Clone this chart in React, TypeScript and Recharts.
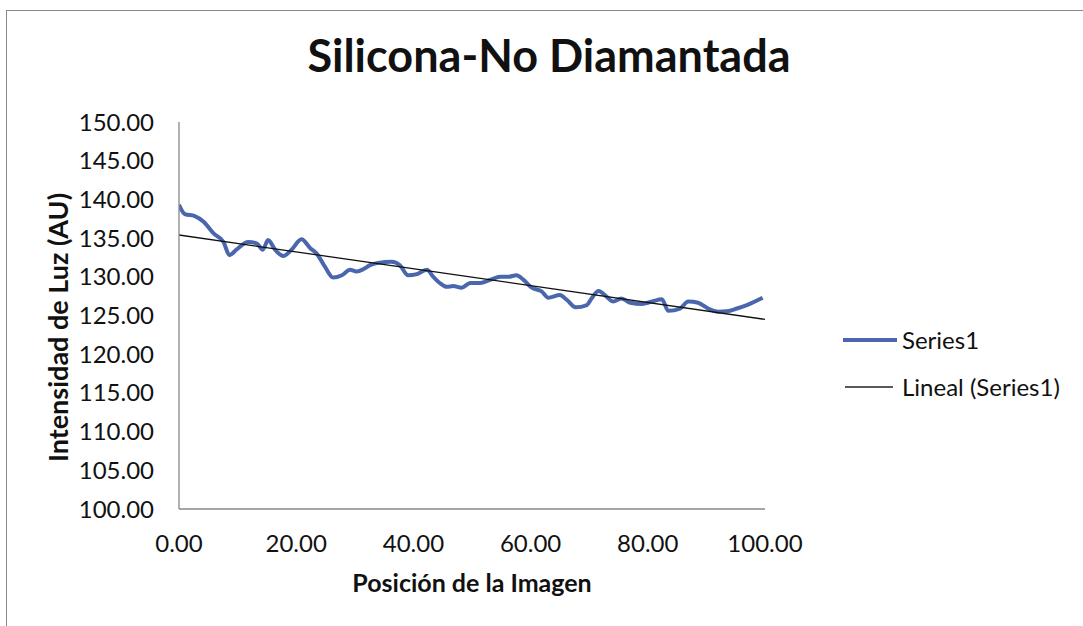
import React from "react";
import { LineChart, Line, XAxis, YAxis } from "recharts";

const positions = [
  0, 1, 2.7, 4.2, 5.9, 7.6, 8.6, 9.8, 11.8, 13.3, 14.3, 15.2, 16.4, 17.8, 19.2,
  20.9, 22.4, 23.5, 24.9, 26.3, 27.8, 29.2, 30.3, 31.5, 32.6, 34.0, 36.3, 37.7,
  39.1, 40.6, 42.3, 43.4, 44.5, 45.7, 46.8, 48.2, 49.7, 51.4, 53.1, 54.8, 56.2,
  57.6, 58.8, 60.2, 61.9, 63.0, 65.0, 66.2, 67.7, 69.6, 70.4, 71.6, 73.0, 74.1,
  75.5, 77.0, 79.0, 80.7, 82.4, 83.5, 85.5, 86.9, 88.6, 90.3, 92.0, 93.5, 95.2,
  96.9, 99.6,
];

const intensities = [
  139.3, 138.1, 137.85, 137.1, 135.6, 134.5, 132.8, 133.5, 134.5, 134.3, 133.5,
  134.75, 133.5, 132.7, 133.5, 134.85, 133.7, 133.0, 131.3, 129.9, 130.2, 130.9,
  130.7, 131.0, 131.5, 131.8, 131.95, 131.5, 130.2, 130.35, 130.9, 130.0, 129.2,
  128.7, 128.8, 128.6, 129.2, 129.2, 129.6, 130.0, 130.0, 130.2, 129.6, 128.6,
  128.1, 127.3, 127.65, 127.0, 126.05, 126.35, 127.2, 128.15, 127.4, 126.8,
  127.2, 126.65, 126.5, 126.8, 127.1, 125.6, 125.9, 126.8, 126.65, 125.9, 125.5,
  125.55, 125.9, 126.35, 127.3,
];

// linear trend (Excel "Lineal") endpoints
const trendX = [0, 100];
const trendY = [135.4, 124.5];

const xTicks = [0, 20, 40, 60, 80, 100];
const yTicks = [100, 105, 110, 115, 120, 125, 130, 135, 140, 145, 150];

const series = positions.map((x, i) => ({ x, y: intensities[i] }));
const trend = trendX.map((x, i) => ({ x, y: trendY[i] }));

const FONT = "Lato, 'Open Sans', sans-serif";
const BLUE = "#4A67AD";

function YTitle(props: any) {
  const vb = props.viewBox || { x: 0, y: 0, width: 0, height: 0 };
  const cx = vb.x + 57;
  const cy = vb.y + vb.height / 2 + 12;
  return (
    <text
      x={cx}
      y={cy}
      transform={`rotate(-90, ${cx}, ${cy})`}
      textAnchor="middle"
      dominantBaseline="central"
      fontFamily={FONT}
      fontWeight={700}
      fontSize={27}
      fill="#111"
    >
      Intensidad de Luz (AU)
    </text>
  );
}

function LegendBox() {
  return (
    <div
      style={{
        position: "absolute",
        left: 842,
        top: 316,
        fontFamily: FONT,
        fontSize: 24,
        color: "#111",
      }}
    >
      <div style={{ display: "flex", alignItems: "center", height: 47 }}>
        <svg width={56} height={10}>
          <line x1={1} y1={5} x2={55} y2={5} stroke={BLUE} strokeWidth={4} />
        </svg>
        <span style={{ marginLeft: 4 }}>Series1</span>
      </div>
      <div style={{ display: "flex", alignItems: "center", height: 47 }}>
        <svg width={56} height={10}>
          <line x1={3} y1={5} x2={51} y2={5} stroke="#222" strokeWidth={1.3} />
        </svg>
        <span style={{ marginLeft: 4 }}>Lineal (Series1)</span>
      </div>
    </div>
  );
}

export default function App() {
  return (
    <div
      style={{
        position: "fixed",
        left: 0,
        top: 0,
        width: 1083,
        height: 626,
        overflow: "hidden",
        background: "#fff",
      }}
    >
      <div
        style={{
          position: "absolute",
          left: 6,
          top: 10,
          width: 1100,
          height: 640,
          border: "1px solid #888",
        }}
      />
      <div
        style={{
          position: "absolute",
          left: 0,
          top: 28,
          width: 1098,
          textAlign: "center",
          fontFamily: FONT,
          fontWeight: 700,
          fontSize: 45,
          color: "#111",
        }}
      >
        Silicona-No Diamantada
      </div>
      <LineChart
        width={1083}
        height={626}
        margin={{ top: 122, right: 318, bottom: 0, left: 0 }}
        style={{ position: "absolute", left: 0, top: 0 }}
      >
        <XAxis
          dataKey="x"
          type="number"
          domain={[0, 100]}
          ticks={xTicks}
          interval={0}
          tickFormatter={(v: number) => v.toFixed(2)}
          tickLine={false}
          tickSize={0}
          tickMargin={26}
          axisLine={{ stroke: "#888", strokeWidth: 1.3 }}
          tick={{ fill: "#111", fontSize: 24, fontFamily: FONT }}
          height={117}
          allowDataOverflow
          label={{
            value: "Posición de la Imagen",
            position: "insideBottom",
            offset: 34,
            style: { fontFamily: FONT, fontWeight: 700, fontSize: 25, fill: "#111" },
          }}
        />
        <YAxis
          type="number"
          domain={[100, 150]}
          ticks={yTicks}
          interval={0}
          tickFormatter={(v: number) => v.toFixed(2)}
          tickLine={false}
          tickSize={0}
          tickMargin={25}
          axisLine={{ stroke: "#888", strokeWidth: 1.3 }}
          tick={{ fill: "#111", fontSize: 24, fontFamily: FONT }}
          width={179}
          allowDataOverflow
          label={{ content: (p: any) => <YTitle {...p} /> }}
        />
        <Line
          data={series}
          dataKey="y"
          type="monotone"
          stroke={BLUE}
          strokeWidth={4}
          dot={false}
          isAnimationActive={false}
        />
        <Line
          data={trend}
          dataKey="y"
          type="linear"
          stroke="#111"
          strokeWidth={1.3}
          dot={false}
          isAnimationActive={false}
        />
      </LineChart>
      <LegendBox />
    </div>
  );
}
